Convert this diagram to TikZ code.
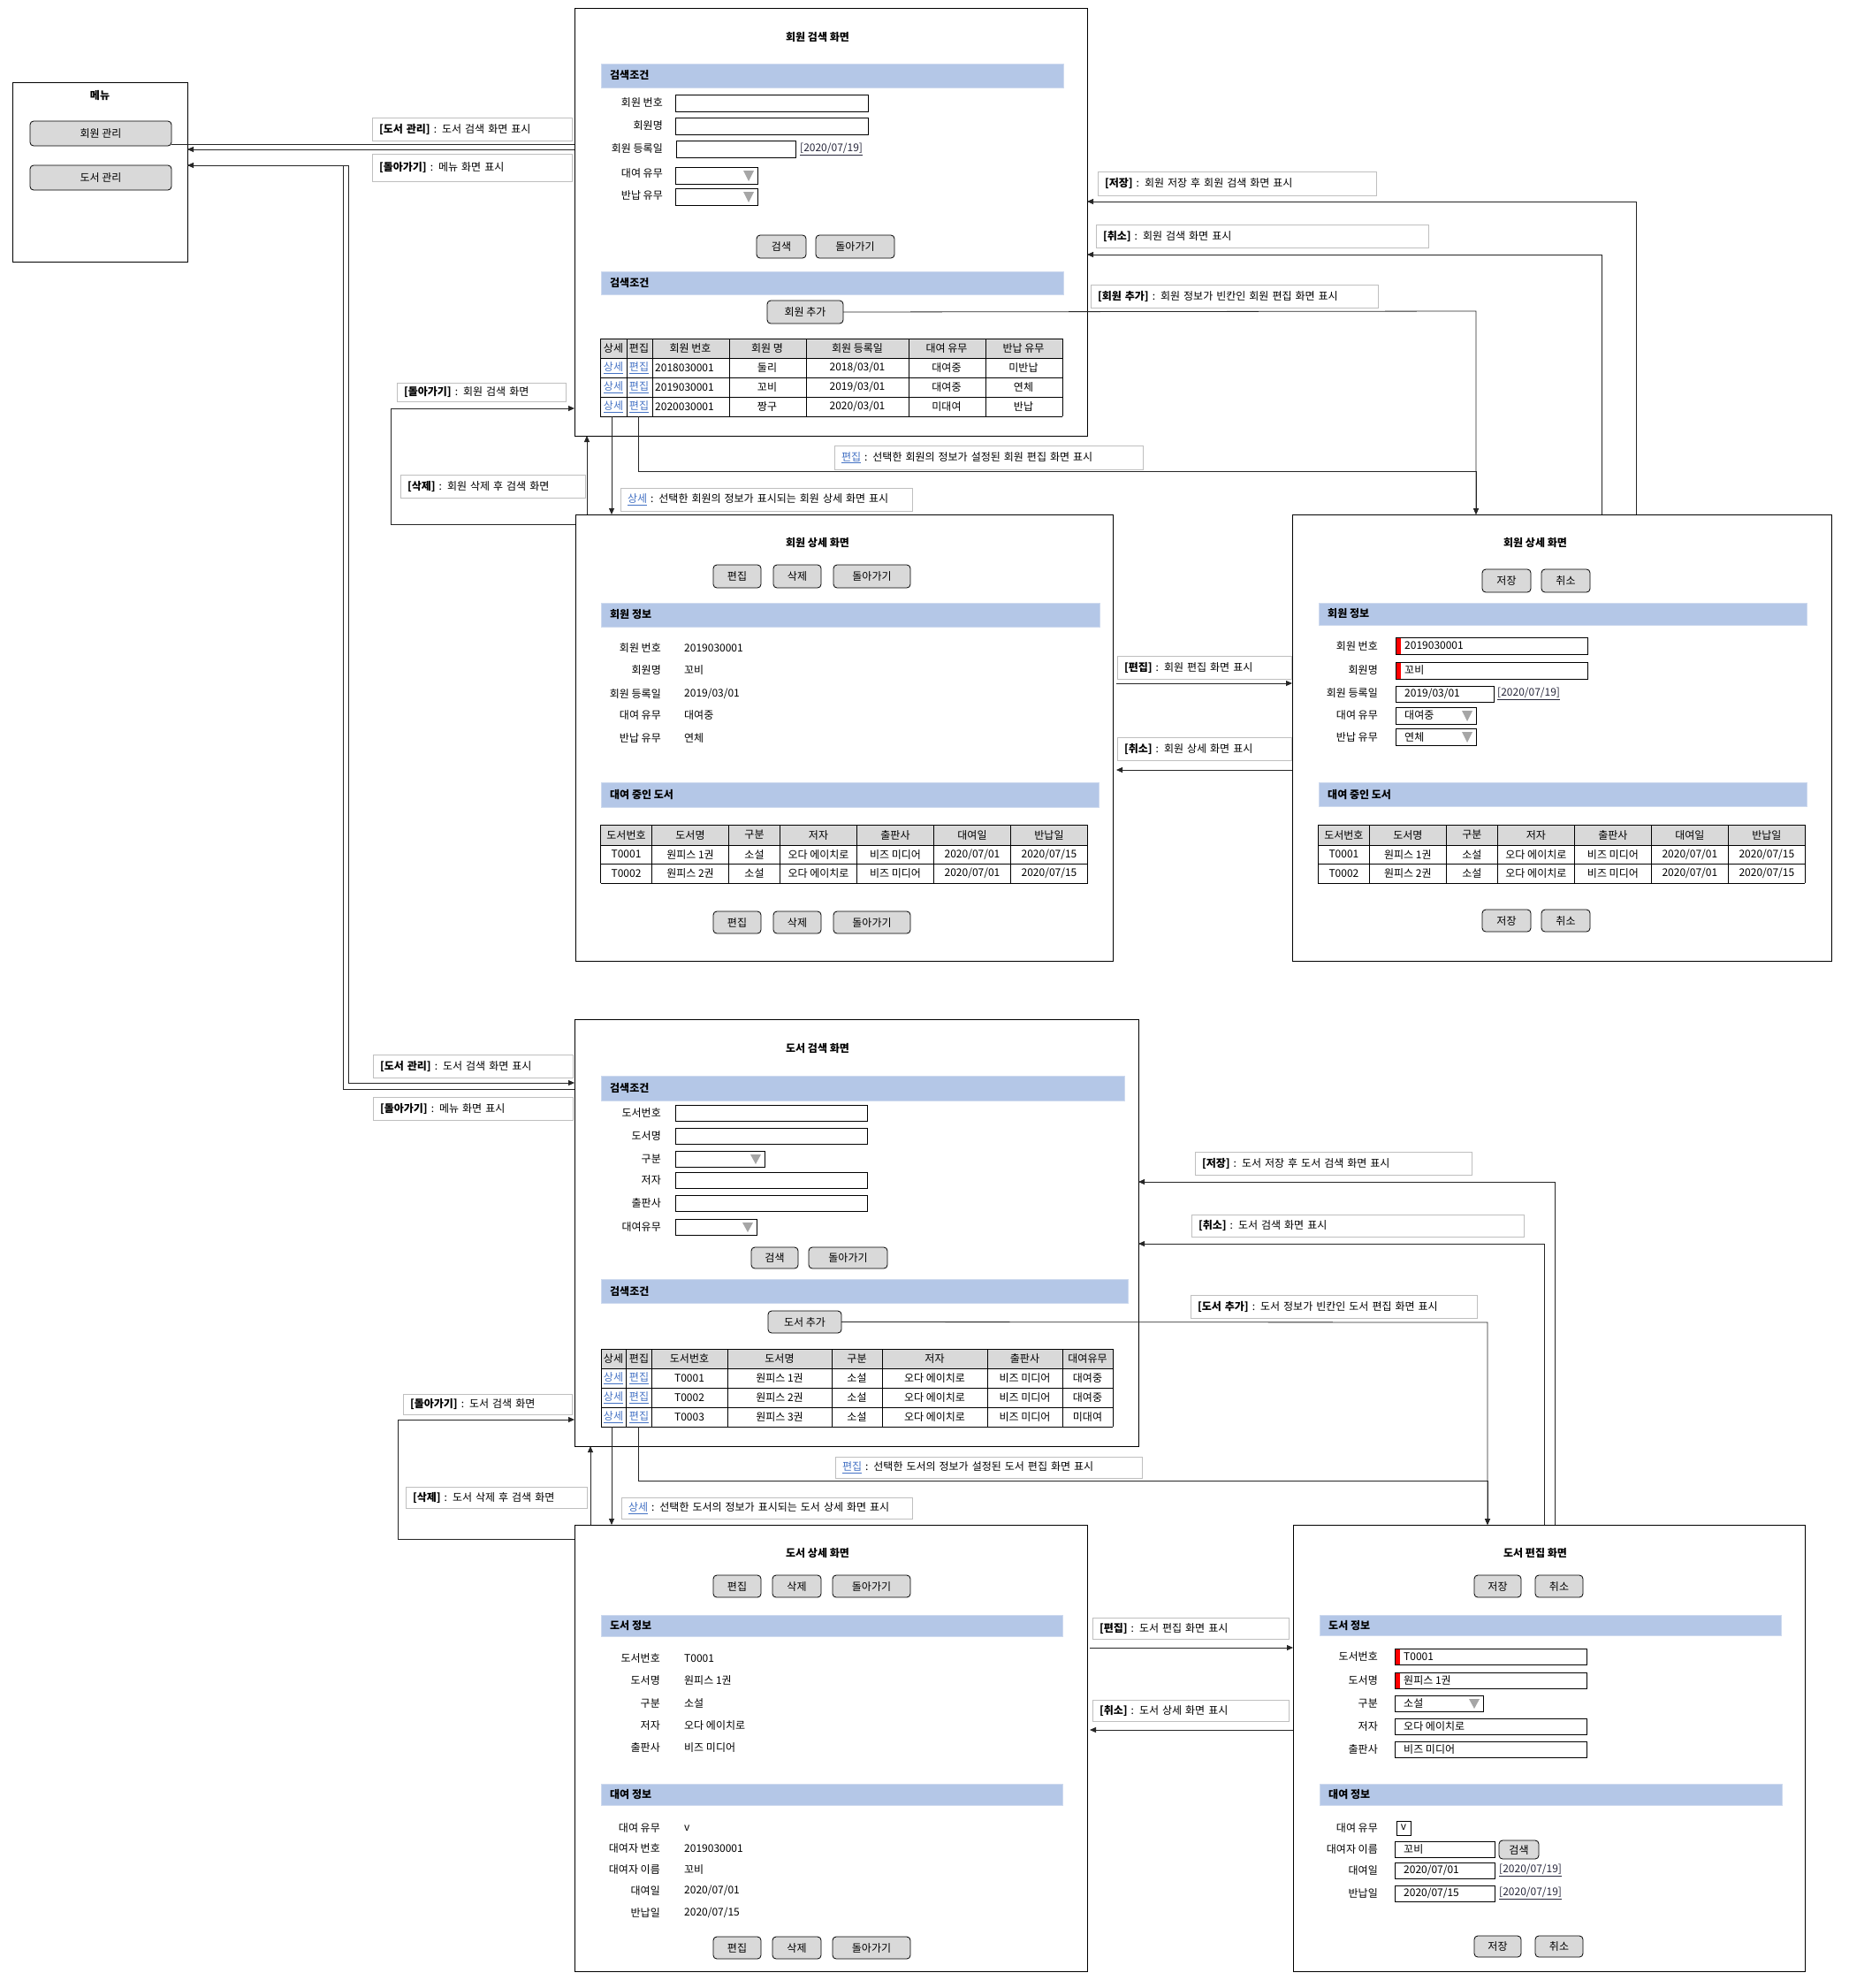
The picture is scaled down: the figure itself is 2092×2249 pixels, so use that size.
\documentclass[tikz,border=0pt]{standalone}
\usepackage{fontspec}
\setmainfont{Noto Sans CJK KR}
\usetikzlibrary{arrows.meta}

\definecolor{secblue}{RGB}{180,199,231}
\definecolor{secedge}{RGB}{205,217,238}
\definecolor{btngray}{RGB}{217,217,217}
\definecolor{notegray}{RGB}{191,191,191}
\definecolor{linkblue}{RGB}{68,114,196}
\definecolor{datelink}{RGB}{40,40,60}
\definecolor{tipgray}{RGB}{166,166,166}

\tikzset{
  screen/.style={draw=black, line width=1pt, anchor=north west, inner sep=0pt, outer sep=0pt},
  btn/.style={draw=black, fill=btngray, rounded corners=4pt, line width=0.8pt, inner sep=0pt, outer sep=0pt},
  field/.style={draw=black, line width=0.8pt, fill=white},
  sect/.style={draw=secedge, fill=secblue, line width=1pt},
  tline/.style={draw=black, line width=0.8pt},
  note/.style={draw=notegray, line width=1pt, anchor=north west, inner xsep=0pt, inner ysep=0pt, outer sep=0pt, align=left},
  conn/.style={draw=black!85, line width=0.8pt},
  arr/.style={conn, -{Triangle[length=7pt,width=6pt]}},
  lbl/.style={anchor=east, inner sep=0pt},
  val/.style={anchor=west, inner sep=0pt},
}

\newcommand{\lnk}[1]{\textcolor{linkblue}{\underline{#1}}}
\newcommand{\datelnk}[1]{\textcolor{datelink}{\underline{#1}}}
\newcommand{\scr}[5]{\node[screen, minimum width=#4pt, minimum height=#5pt] (#1) at (#2,#3) {};}
\newcommand{\btnat}[6]{\node[btn, minimum width={(#4-#2)*1pt}, minimum height={(#5-#3)*1pt}] (#1) at ({(#2+#4)/2},{(#3+#5)/2}) {#6};}
\newcommand{\sectbar}[5]{\draw[sect] (#1,#2) rectangle (#3,#4); \node[val, font=\bfseries] at ({#1+10},{(#2+#4)/2}) {#5};}
\newcommand{\fld}[4]{\draw[field] (#1,#2) rectangle (#3,#4);}
\newcommand{\reqfld}[4]{\draw[field] (#1,#2) rectangle (#3,#4); \fill[red] ({#1+0.5},{#2+0.5}) rectangle ({#1+6},{#4-0.5});}
\newcommand{\combo}[4]{\draw[field] (#1,#2) rectangle (#3,#4); \fill[tipgray] ({#3-16},{#2+4}) -- ({#3-4},{#2+4}) -- ({#3-10},{#4-3}) -- cycle;}
\newcommand{\notelbl}[6]{\node[note, text width=#4pt, minimum height=#5pt] (#1) at (#2,#3) {\hspace*{8pt}#6};}

% table of borrowed books (same in both member screens)
\newcommand{\loantbl}[1]{%
\begin{scope}[shift={(#1,0)}]
\fill[btngray] (0,933) rectangle (551,956);
\foreach \x in {0,58,145,203,290,377,464,551} \draw[tline] (\x,933) -- (\x,999);
\foreach \y in {933,956,977,999} \draw[tline] (0,\y) -- (551,\y);
\foreach \cx/\t in {29/도서번호,101.5/도서명,174/구분,246.5/저자,333.5/출판사,420.5/대여일,507.5/반납일}
  \node at (\cx,944.5) {\t};
\foreach \y/\no/\nm in {966.5/T0001/원피스 1권,988/T0002/원피스 2권}{
  \node at (29,\y) {\no};
  \node at (101.5,\y) {\nm};
  \node at (174,\y) {소설};
  \node at (246.5,\y) {오다 에이치로};
  \node at (333.5,\y) {비즈 미디어};
  \node at (420.5,\y) {2020/07/01};
  \node at (507.5,\y) {2020/07/15};
}
\end{scope}}

\begin{document}
\fontsize{12}{14}\selectfont
\begin{tikzpicture}[x=1pt, y=-1pt]
\useasboundingbox (0,0) rectangle (2092,2249);
\fill[white] (0,0) rectangle (2092,2249);

% menu
\scr{menu}{14}{93}{198}{203}
\node[font=\bfseries] at (113,108) {메뉴};
\btnat{btnM}{34}{137}{194}{165}{회원 관리}
\btnat{btnB}{34}{187}{194}{215}{도서 관리}

% ---------------- member search
\scr{msearch}{650}{9}{580}{484}
\node[font=\bfseries] at (925,42) {회원 검색 화면};
\sectbar{680}{72}{1203}{99}{검색조건}
\node[lbl] at (750,116) {회원 번호}; \fld{764}{107}{982}{126}
\node[lbl] at (750,142) {회원명}; \fld{764}{133}{982}{152}
\node[lbl] at (750,168) {회원 등록일}; \fld{765}{159}{900}{178}
\node[val] at (905,169) {\datelnk{[2020/07/19]}};
\node[lbl] at (750,196) {대여 유무}; \combo{764}{189}{857}{208}
\node[lbl] at (750,221) {반납 유무}; \combo{764}{213}{857}{232}
\btnat{mFind}{856}{266}{912}{292}{검색}
\btnat{mBack}{923}{266}{1012}{292}{돌아가기}
\sectbar{680}{307}{1203}{333}{검색조건}
\btnat{mAdd}{868}{340}{954}{366}{회원 추가}
\fill[btngray] (679,383) rectangle (1202,405);
\foreach \x in {679,709,738,825,912,1028,1115,1202} \draw[tline] (\x,383) -- (\x,471);
\foreach \y in {383,405,427,449,471} \draw[tline] (679,\y) -- (1202,\y);
\foreach \cx/\t in {694/상세,723/편집,781/회원 번호,868/회원 명,970/회원 등록일,1071/대여 유무,1158/반납 유무}
  \node at (\cx,394) {\t};
\foreach \y/\no/\nm/\dt/\rs/\rt in {416/2018030001/둘리/{2018/03/01}/대여중/미반납,438/2019030001/꼬비/{2019/03/01}/대여중/연체,460/2020030001/짱구/{2020/03/01}/미대여/반납}{
  \node at (694,\y) {\lnk{상세}};
  \node at (723,\y) {\lnk{편집}};
  \node[val] at (741,\y) {\no};
  \node at (868,\y) {\nm};
  \node at (970,\y) {\dt};
  \node at (1071,\y) {\rs};
  \node at (1158,\y) {\rt};
}
\coordinate (mDetLink) at (692,471);
\coordinate (mEdLink) at (722,471);

% ---------------- member detail
\scr{mdetail}{651}{582}{608}{505}
\node[font=\bfseries] at (925,614) {회원 상세 화면};
\btnat{mdEdit}{807}{639}{861}{665}{편집}
\btnat{mdDel}{875}{639}{929}{665}{삭제}
\btnat{mdBack}{943}{639}{1030}{665}{돌아가기}
\sectbar{680}{682}{1244}{709}{회원 정보}
\foreach \y/\k/\v in {733/회원 번호/2019030001,758/회원명/꼬비,785/회원 등록일/{2019/03/01},809/대여 유무/대여중,835/반납 유무/연체}{
  \node[lbl] at (748,\y) {\k};
  \node[val] at (774,\y) {\v};
}
\sectbar{680}{885}{1243}{913}{대여 중인 도서}
\loantbl{679.5}
\btnat{mdEdit2}{807}{1031}{861}{1056}{편집}
\btnat{mdDel2}{875}{1031}{929}{1056}{삭제}
\btnat{mdBack2}{943}{1031}{1030}{1056}{돌아가기}

% ---------------- member edit
\scr{medit}{1462}{582}{610}{505}
\node[font=\bfseries] at (1737,614) {회원 상세 화면};
\btnat{meSave}{1677}{644}{1732}{670}{저장}
\btnat{meCancel}{1744}{644}{1799}{670}{취소}
\sectbar{1492}{682}{2044}{707}{회원 정보}
\node[lbl] at (1559,731) {회원 번호}; \reqfld{1579}{721}{1796}{740}
\node[val] at (1589,730.5) {2019030001};
\node[lbl] at (1559,758) {회원명}; \reqfld{1579}{749}{1796}{768}
\node[val] at (1589,758.5) {꼬비};
\node[lbl] at (1559,784) {회원 등록일}; \fld{1579}{776}{1690}{794}
\node[val] at (1589,785) {2019/03/01};
\node[val] at (1694,785) {\datelnk{[2020/07/19]}};
\node[lbl] at (1559,809) {대여 유무}; \combo{1579}{800}{1670}{819}
\node[val] at (1589,809.5) {대여중};
\node[lbl] at (1559,834) {반납 유무}; \combo{1579}{824}{1670}{843}
\node[val] at (1589,833.5) {연체};
\sectbar{1492}{885}{2044}{912}{대여 중인 도서}
\loantbl{1491.4}
\btnat{meSave2}{1677}{1029}{1732}{1054}{저장}
\btnat{meCancel2}{1744}{1029}{1799}{1054}{취소}

% ---------------- book search
\scr{bsearch}{650}{1153}{638}{483}
\node[font=\bfseries] at (925,1186) {도서 검색 화면};
\sectbar{680}{1217}{1272}{1245}{검색조건}
\node[lbl] at (748,1259) {도서번호}; \fld{764}{1250}{981}{1268}
\node[lbl] at (748,1285) {도서명}; \fld{764}{1276}{981}{1294}
\node[lbl] at (748,1311) {구분}; \combo{764}{1302}{865}{1320}
\node[lbl] at (748,1335) {저자}; \fld{764}{1326}{981}{1344}
\node[lbl] at (748,1361) {출판사}; \fld{764}{1352}{981}{1370}
\node[lbl] at (748,1388) {대여유무}; \combo{764}{1379}{856}{1397}
\btnat{bFind}{850}{1411}{903}{1435}{검색}
\btnat{bBack}{915}{1411}{1004}{1435}{돌아가기}
\sectbar{680}{1447}{1276}{1474}{검색조건}
\btnat{bAdd}{869}{1483}{952}{1508}{도서 추가}
\fill[btngray] (680,1526) rectangle (1259,1548);
\foreach \x in {680,708,737,823,941,998,1117,1202,1259} \draw[tline] (\x,1526) -- (\x,1614);
\foreach \y in {1526,1548,1570,1592,1614} \draw[tline] (680,\y) -- (1259,\y);
\foreach \cx/\t in {694/상세,723/편집,780/도서번호,882/도서명,969.5/구분,1057.5/저자,1159.5/출판사,1230.5/대여유무}
  \node at (\cx,1537) {\t};
\foreach \y/\no/\nm/\rs in {1559/T0001/원피스 1권/대여중,1581/T0002/원피스 2권/대여중,1603/T0003/원피스 3권/미대여}{
  \node at (694,\y) {\lnk{상세}};
  \node at (723,\y) {\lnk{편집}};
  \node at (780,\y) {\no};
  \node at (882,\y) {\nm};
  \node at (969.5,\y) {소설};
  \node at (1057.5,\y) {오다 에이치로};
  \node at (1159.5,\y) {비즈 미디어};
  \node at (1230.5,\y) {\rs};
}
\coordinate (bDetLink) at (692,1614);
\coordinate (bEdLink) at (722,1614);

% ---------------- book detail
\scr{bdetail}{650}{1725}{580}{505}
\node[font=\bfseries] at (925,1757) {도서 상세 화면};
\btnat{bdEdit}{807}{1782}{861}{1807}{편집}
\btnat{bdDel}{874}{1782}{929}{1807}{삭제}
\btnat{bdBack}{942}{1782}{1030}{1807}{돌아가기}
\sectbar{680}{1827}{1202}{1851}{도서 정보}
\foreach \y/\k/\v in {1876/도서번호/T0001,1901/도서명/원피스 1권,1927/구분/소설,1952/저자/오다 에이치로,1977/출판사/비즈 미디어}{
  \node[lbl] at (747,\y) {\k};
  \node[val] at (774,\y) {\v};
}
\sectbar{680}{2018}{1202}{2042}{대여 정보}
\foreach \y/\k/\v in {2068/대여 유무/v,2091/대여자 번호/2019030001,2115/대여자 이름/꼬비,2139/대여일/{2020/07/01},2164/반납일/{2020/07/15}}{
  \node[lbl] at (747,\y) {\k};
  \node[val] at (774,\y) {\v};
}
\btnat{bdEdit2}{807}{2191}{861}{2216}{편집}
\btnat{bdDel2}{874}{2191}{929}{2216}{삭제}
\btnat{bdBack2}{942}{2191}{1030}{2216}{돌아가기}

% ---------------- book edit
\scr{bedit}{1463}{1725}{579}{505}
\node[font=\bfseries] at (1737,1757) {도서 편집 화면};
\btnat{beSave}{1668}{1782}{1721}{1807}{저장}
\btnat{beCancel}{1737}{1782}{1791}{1807}{취소}
\sectbar{1493}{1827}{2015}{1850}{도서 정보}
\node[lbl] at (1559,1874) {도서번호}; \reqfld{1578}{1865}{1795}{1883}
\node[val] at (1588,1874) {T0001};
\node[lbl] at (1559,1901) {도서명}; \reqfld{1578}{1892}{1795}{1910}
\node[val] at (1588,1901) {원피스 1권};
\node[lbl] at (1559,1927) {구분}; \combo{1578}{1918}{1678}{1936}
\node[val] at (1588,1927) {소설};
\node[lbl] at (1559,1953) {저자}; \fld{1578}{1944}{1795}{1962}
\node[val] at (1588,1953) {오다 에이치로};
\node[lbl] at (1559,1979) {출판사}; \fld{1578}{1970}{1795}{1988}
\node[val] at (1588,1979) {비즈 미디어};
\sectbar{1493}{2018}{2016}{2042}{대여 정보}
\node[lbl] at (1559,2068) {대여 유무}; \fld{1580}{2060}{1596}{2076}
\node at (1588,2067) {v};
\node[lbl] at (1559,2092) {대여자 이름}; \fld{1578}{2083}{1691}{2101}
\node[val] at (1588,2092) {꼬비};
\btnat{beFind}{1696}{2082}{1741}{2103}{검색}
\node[lbl] at (1559,2116) {대여일}; \fld{1578}{2107}{1691}{2125}
\node[val] at (1588,2116) {2020/07/01};
\node[val] at (1696,2116) {\datelnk{[2020/07/19]}};
\node[lbl] at (1559,2142) {반납일}; \fld{1578}{2133}{1691}{2151}
\node[val] at (1588,2142) {2020/07/15};
\node[val] at (1696,2142) {\datelnk{[2020/07/19]}};
\btnat{beSave2}{1668}{2190}{1721}{2214}{저장}
\btnat{beCancel2}{1737}{2190}{1791}{2214}{취소}

% ---------------- notes
\notelbl{nMenuB}{421}{133}{226}{26}{\textbf{[도서 관리]} : 도서 검색 화면 표시}
\notelbl{nMenuBack}{421}{174}{226}{31}{\textbf{[돌아가기]} : 메뉴 화면 표시}
\notelbl{nmSave}{1242}{194}{315}{27}{\textbf{[저장]} : 회원 저장 후 회원 검색 화면 표시}
\notelbl{nmCancel}{1240}{254}{376}{26}{\textbf{[취소]} : 회원 검색 화면 표시}
\notelbl{nmAdd}{1234}{322}{325}{26}{\textbf{[회원 추가]} : 회원 정보가 빈칸인 회원 편집 화면 표시}
\notelbl{nmEdLink}{944}{504}{349}{27}{\lnk{편집} : 선택한 회원의 정보가 설정된 회원 편집 화면 표시}
\notelbl{nmDetLink}{702}{552}{330}{26}{\lnk{상세} : 선택한 회원의 정보가 표시되는 회원 상세 화면 표시}
\notelbl{nmBack}{449}{433}{191}{21}{\textbf{[돌아가기]} : 회원 검색 화면}
\notelbl{nmDel}{453}{537}{209}{26}{\textbf{[삭제]} : 회원 삭제 후 검색 화면}
\notelbl{nmEdit}{1264}{742}{197}{26}{\textbf{[편집]} : 회원 편집 화면 표시}
\notelbl{nmEdCancel}{1264}{834}{197}{26}{\textbf{[취소]} : 회원 상세 화면 표시}
\notelbl{nBookMgr}{422}{1193}{226}{26}{\textbf{[도서 관리]} : 도서 검색 화면 표시}
\notelbl{nBookBack}{422}{1241}{226}{26}{\textbf{[돌아가기]} : 메뉴 화면 표시}
\notelbl{nbSave}{1352}{1303}{313}{26}{\textbf{[저장]} : 도서 저장 후 도서 검색 화면 표시}
\notelbl{nbCancel}{1348}{1374}{376}{25}{\textbf{[취소]} : 도서 검색 화면 표시}
\notelbl{nbAdd}{1347}{1465}{324}{26}{\textbf{[도서 추가]} : 도서 정보가 빈칸인 도서 편집 화면 표시}
\notelbl{nbEdLink}{945}{1648}{347}{24}{\lnk{편집} : 선택한 도서의 정보가 설정된 도서 편집 화면 표시}
\notelbl{nbDetLink}{703}{1694}{329}{24}{\lnk{상세} : 선택한 도서의 정보가 표시되는 도서 상세 화면 표시}
\notelbl{nbBack}{456}{1577}{191}{23}{\textbf{[돌아가기]} : 도서 검색 화면}
\notelbl{nbDel}{459}{1682}{205}{24}{\textbf{[삭제]} : 도서 삭제 후 검색 화면}
\notelbl{nbEdit}{1236}{1830}{222}{24}{\textbf{[편집]} : 도서 편집 화면 표시}
\notelbl{nbEdCancel}{1236}{1923}{222}{24}{\textbf{[취소]} : 도서 상세 화면 표시}

% ---------------- connectors
\draw[conn] (btnM.east |- 0,163) -- (msearch.west |- 0,163);
\draw[arr] (msearch.west |- 0,169) -- (menu.east |- 0,169);
\draw[arr] (menu.east |- 0,187) -- (394,187) -- (394,1225) -- (bsearch.west |- 0,1225);
\draw[arr] (bsearch.west |- 0,1232) -- (388,1232) -- (388,187) -- (menu.east |- 0,187);

\draw[arr] (mAdd.east) -- (1670,352) -- (medit.north -| 1670,0);
\draw[arr] (mEdLink) |- (1670,533) -- (medit.north -| 1670,0);
\draw[arr] (mDetLink) -- (mdetail.north -| 692,0);
\draw[arr] (mdetail.north -| 664,0) -- (msearch.south -| 664,0);
\draw[arr] (mdetail.west |- 0,593) -- (442,593) -- (442,462) -- (msearch.west |- 0,462);
\draw[arr] (medit.north -| 1851,0) -- (1851,228) -- (msearch.east |- 0,228);
\draw[arr] (medit.north -| 1812,0) -- (1812,288) -- (msearch.east |- 0,288);
\draw[arr, shorten <=4pt] (mdetail.east |- 0,773) -- (medit.west |- 0,773);
\draw[arr, shorten >=4pt] (medit.west |- 0,871) -- (mdetail.east |- 0,871);

\draw[arr] (bAdd.east) -- (1683,1496) -- (bedit.north -| 1683,0);
\draw[arr] (bEdLink) |- (1683,1675) -- (bedit.north -| 1683,0);
\draw[arr] (bDetLink) -- (bdetail.north -| 692,0);
\draw[arr] (bdetail.north -| 668,0) -- (bsearch.south -| 668,0);
\draw[arr] (bdetail.west |- 0,1741) -- (450,1741) -- (450,1606) -- (bsearch.west |- 0,1606);
\draw[arr] (bedit.north -| 1759,0) -- (1759,1337) -- (bsearch.east |- 0,1337);
\draw[arr] (bedit.north -| 1747,0) -- (1747,1407) -- (bsearch.east |- 0,1407);
\draw[arr, shorten <=3pt] (bdetail.east |- 0,1864) -- (bedit.west |- 0,1864);
\draw[arr, shorten >=3pt] (bedit.west |- 0,1957) -- (bdetail.east |- 0,1957);
\end{tikzpicture}
\end{document}
